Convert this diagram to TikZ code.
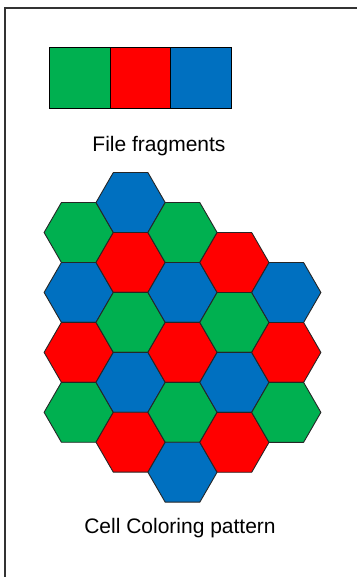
\documentclass[tikz,border=0pt]{standalone}
\usepackage{fontspec}
\setmainfont{Liberation Sans}
\definecolor{cellgreen}{RGB}{0,176,80}
\definecolor{cellred}{RGB}{255,0,0}
\definecolor{cellblue}{RGB}{0,112,192}
\tikzset{
  fragbox/.style={draw=black,line width=0.9pt},
  hexcell/.style={draw=black!85,line width=0.9pt,line join=round},
  caption/.style={font=\fontsize{21}{25}\selectfont,inner sep=0pt,anchor=base}
}
\begin{document}
\begin{tikzpicture}[x=1pt,y=-1pt]
\useasboundingbox (0,0) rectangle (357,577);
% frame, cut off at right and bottom
\draw[line width=1.3pt,black!80](5,577)--(5,8)--(357,8);
% file fragments
\filldraw[fragbox,fill=cellgreen](49,47)rectangle(110,108);
\filldraw[fragbox,fill=cellred](110,47)rectangle(170,108);
\filldraw[fragbox,fill=cellblue](170,47)rectangle(231,108);
\node[caption](fragtext) at (159,151.5){File fragments};
% hexagonal cells, one column at a time
\foreach \col/\ystart/\cells in {
  0/232.5/{cellgreen,cellblue,cellred,cellgreen},
  1/202.5/{cellblue,cellred,cellgreen,cellblue,cellred},
  2/232.5/{cellgreen,cellblue,cellred,cellgreen,cellblue},
  3/262.5/{cellred,cellgreen,cellblue,cellred},
  4/292.5/{cellblue,cellred,cellgreen}}{
  \foreach \c [count=\k from 0] in \cells
    \filldraw[hexcell,fill=\c](78.7+51.9*\col,\ystart+59.93*\k)
      +(0:34.6)--+(60:34.6)--+(120:34.6)--+(180:34.6)--+(240:34.6)--+(300:34.6)--cycle;
}
\node[caption](celltext) at (180,533.3){Cell Coloring pattern};
\end{tikzpicture}
\end{document}
